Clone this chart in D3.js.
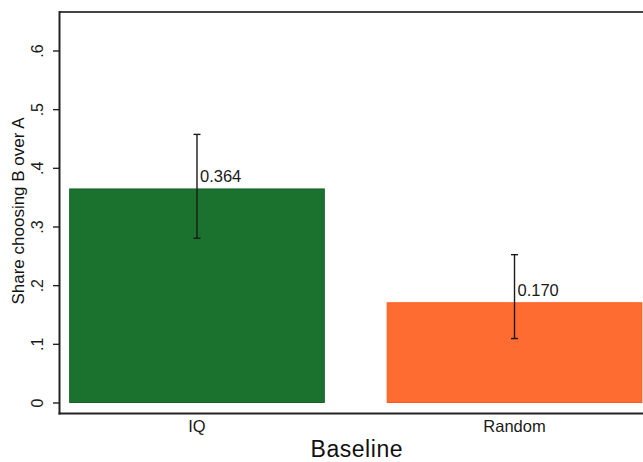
<!DOCTYPE html>
<html>
<head>
<meta charset="utf-8">
<script src="https://cdn.jsdelivr.net/npm/d3@7"></script>
<style>
  html, body { margin: 0; padding: 0; background: #fff; }
  svg { display: block; font-family: "Liberation Sans", Arial, sans-serif; }
</style>
</head>
<body>
<svg id="chart" width="643" height="462"></svg>
<script>
// Share choosing B over A, by baseline condition
const categories = ["IQ", "Random"];
const shares = [0.364, 0.170];
const ciLow = [0.280, 0.109];
const ciHigh = [0.457, 0.252];
const barColors = ["#1b722e", "#ff6c31"];
const barStrokes = ["#176227", "#ff5a1e"];
const yTicks = [0, 0.1, 0.2, 0.3, 0.4, 0.5, 0.6];
const yTickLabels = ["0", ".1", ".2", ".3", ".4", ".5", ".6"];

const svg = d3.select("#chart");

const plot = { left: 59.5, right: 652, top: 12, bottom: 413.5 };

const x = d3.scaleBand()
  .domain(categories)
  .range([plot.left, plot.right])
  .paddingInner(0.198)
  .paddingOuter(0.032);

const y = d3.scaleLinear()
  .domain([0, 0.6])
  .range([402.5, 50.5]);

// bars
svg.append("g").selectAll("rect")
  .data(categories)
  .join("rect")
  .attr("x", d => x(d))
  .attr("width", x.bandwidth())
  .attr("y", (d, i) => y(shares[i]))
  .attr("height", (d, i) => y(0) - y(shares[i]))
  .attr("fill", (d, i) => barColors[i])
  .attr("stroke", (d, i) => barStrokes[i])
  .attr("stroke-width", 1);

// confidence intervals
const ci = svg.append("g").attr("stroke", "#1a1a1a").attr("stroke-width", 1.4);
categories.forEach((c, i) => {
  const cx = x(c) + x.bandwidth() / 2;
  ci.append("line").attr("x1", cx).attr("x2", cx)
    .attr("y1", y(ciLow[i])).attr("y2", y(ciHigh[i]));
  [ciLow[i], ciHigh[i]].forEach(v => {
    ci.append("line").attr("x1", cx - 3.5).attr("x2", cx + 3.5)
      .attr("y1", y(v)).attr("y2", y(v));
  });
});

// value labels
svg.append("g").selectAll("text")
  .data(categories)
  .join("text")
  .attr("x", d => x(d) + x.bandwidth() / 2 + 3)
  .attr("y", (d, i) => y(shares[i]) - 6.5)
  .attr("font-size", 16.5)
  .attr("fill", "#1a1a1a")
  .text((d, i) => shares[i].toFixed(3));

// frame: top border and axes
svg.append("line")
  .attr("x1", plot.left).attr("x2", 643)
  .attr("y1", plot.top).attr("y2", plot.top)
  .attr("stroke", "#444").attr("stroke-width", 2);

const yAxis = svg.append("g")
  .attr("transform", `translate(${plot.left},0)`)
  .call(d3.axisLeft(y).tickValues(yTicks)
    .tickFormat((d, i) => yTickLabels[i]).tickSize(6.5).tickSizeOuter(0));
yAxis.select(".domain").remove();
yAxis.selectAll(".tick line").attr("stroke", "#222").attr("stroke-width", 1.4);
yAxis.selectAll(".tick text")
  .attr("transform", "rotate(-90)")
  .attr("x", 0).attr("y", -16.5).attr("dy", 0)
  .attr("text-anchor", "middle")
  .attr("font-size", 16)
  .attr("font-family", "Liberation Sans, Arial, sans-serif")
  .attr("fill", "#1a1a1a");

svg.append("line")
  .attr("x1", plot.left).attr("x2", plot.left)
  .attr("y1", plot.top - 1).attr("y2", plot.bottom + 1)
  .attr("stroke", "#222").attr("stroke-width", 2);

const xAxis = svg.append("g")
  .attr("transform", `translate(0,${plot.bottom})`)
  .call(d3.axisBottom(x).tickSize(0).tickPadding(0));
xAxis.select(".domain").remove();
xAxis.selectAll(".tick text")
  .attr("y", 18.5).attr("dy", 0)
  .attr("font-size", 16.5)
  .attr("font-family", "Liberation Sans, Arial, sans-serif")
  .attr("fill", "#1a1a1a");

svg.append("line")
  .attr("x1", plot.left - 1).attr("x2", 643)
  .attr("y1", plot.bottom).attr("y2", plot.bottom)
  .attr("stroke", "#222").attr("stroke-width", 2);

// axis titles
svg.append("text")
  .attr("x", 356.5).attr("y", 457)
  .attr("text-anchor", "middle")
  .attr("font-size", 23)
  .attr("textLength", 92)
  .attr("fill", "#111")
  .text("Baseline");

svg.append("text")
  .attr("transform", "translate(24,211) rotate(-90)")
  .attr("text-anchor", "middle")
  .attr("font-size", 17)
  .attr("fill", "#111")
  .text("Share choosing B over A");
</script>
</body>
</html>
